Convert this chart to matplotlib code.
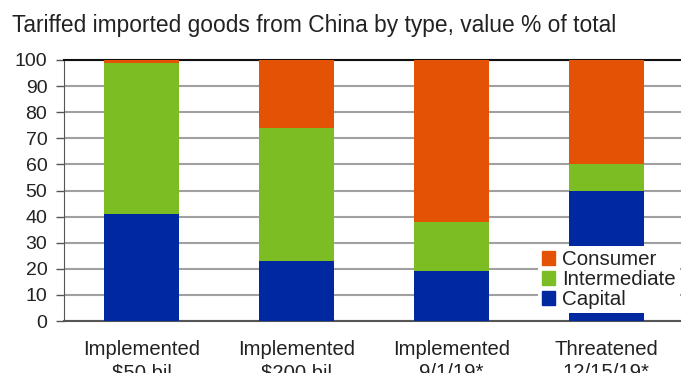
import matplotlib
matplotlib.use("Agg")
import matplotlib.pyplot as plt
from matplotlib.patches import Patch
import numpy as np

categories = ["Implemented\n$50 bil", "Implemented\n$200 bil", "Implemented\n9/1/19*", "Threatened\n12/15/19*"]
capital = [41, 23, 19, 50]
intermediate = [58, 51, 19, 10]
consumer = [1, 26, 62, 40]

c_cap = "#0028A0"
c_int = "#7BBD22"
c_con = "#E35205"

plt.rcParams['font.family'] = ['Liberation Sans', 'DejaVu Sans']
txt = "#222222"

fig = plt.figure(figsize=(6.81, 3.73), dpi=100)
ax = fig.add_axes([64/681, 52/373, 620/681, 261/373])

x = np.arange(len(categories))
w = 0.48
cap = np.array(capital)
inter = np.array(intermediate)
cons = np.array(consumer)
ax.bar(x, cap, w, color=c_cap, zorder=3)
ax.bar(x, inter, w, bottom=cap, color=c_int, zorder=3)
ax.bar(x, cons, w, bottom=cap + inter, color=c_con, zorder=3)

ax.set_xlim(-0.5, 3.5)
ax.set_ylim(0, 100)
ax.set_yticks(np.arange(0, 101, 10))
ax.tick_params(axis='y', labelsize=14, colors=txt, length=6, width=1, direction='out', pad=6)
for t in ax.get_yticklabels():
    t.set_color(txt)
ax.tick_params(axis='y', color="#555555")
ax.set_xticks(x)
ax.set_xticklabels(categories, fontsize=14.6, color=txt, linespacing=1.25)
ax.tick_params(axis='x', length=0, pad=14)

ax.yaxis.grid(True, color="#A0A0A0", linewidth=1.5, zorder=0)
ax.set_axisbelow(True)
ax.spines['right'].set_visible(False)
ax.spines['top'].set_color("#111111")
ax.spines['top'].set_linewidth(1.5)
ax.spines['left'].set_color("#555555")
ax.spines['bottom'].set_color("#555555")
ax.spines['bottom'].set_linewidth(1.5)

handles = [Patch(color=c_con, label="Consumer"),
           Patch(color=c_int, label="Intermediate"),
           Patch(color=c_cap, label="Capital")]
leg = ax.legend(handles=handles, loc='lower right',
                bbox_to_anchor=((680 - 64) / 620, 0.03),
                fontsize=14.8, frameon=True, facecolor='white', edgecolor='none',
                framealpha=1, fancybox=False, handlelength=0.65, handleheight=0.65,
                handletextpad=0.35, labelspacing=0.05, borderpad=0.2, borderaxespad=0.0)
for t in leg.get_texts():
    t.set_color(txt)
leg.set_zorder(5)

fig.text(12/681, 1 - 32/373, "Tariffed imported goods from China by type, value % of total",
         fontsize=16.4, color=txt, ha='left', va='baseline')

fig.savefig("out.png", dpi=100)
